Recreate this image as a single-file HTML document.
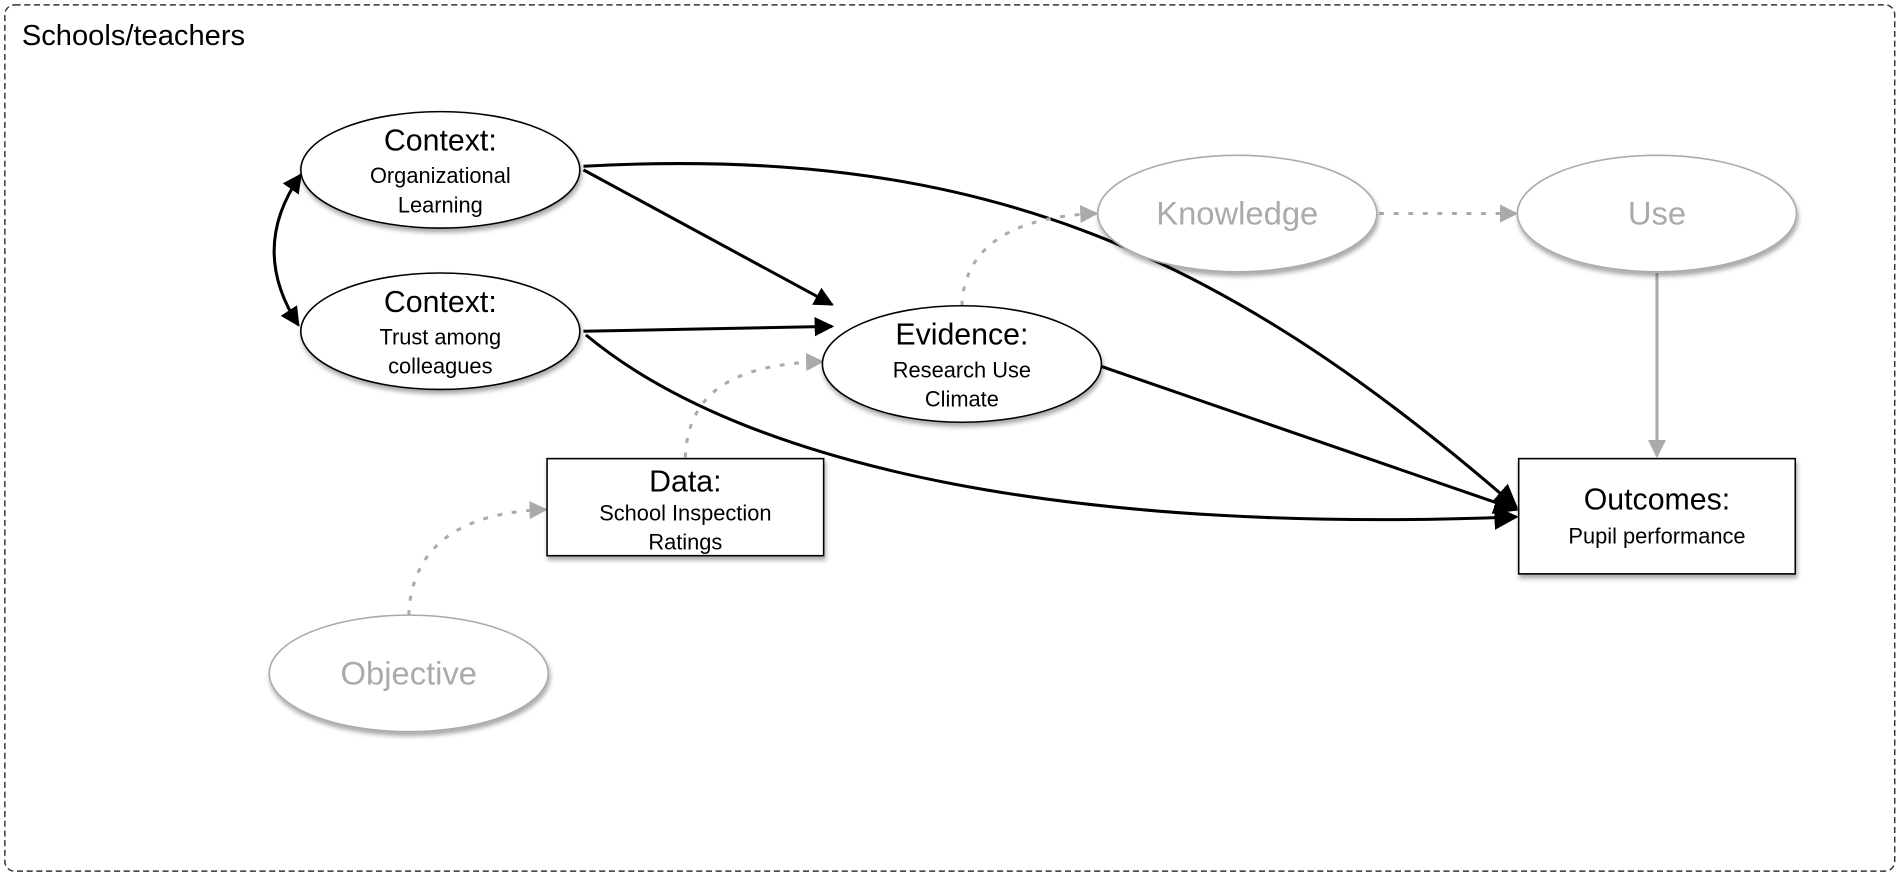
<!DOCTYPE html>
<html><head><meta charset="utf-8"><style>
html,body{margin:0;padding:0;background:#fff;}
svg{display:block;}
text{font-family:"Liberation Sans",Arial,sans-serif;}
</style></head><body>
<svg width="1902" height="876" viewBox="0 0 1568 722" preserveAspectRatio="none" xmlns="http://www.w3.org/2000/svg">
<defs>
<marker id="ab" viewBox="0 0 10 10" refX="9" refY="5" markerWidth="7" markerHeight="7" orient="auto-start-reverse" markerUnits="userSpaceOnUse"><path d="M0,0 L10,5 L0,10 z" fill="#000"/></marker>
<marker id="abig" viewBox="0 0 10 10" refX="9" refY="5" markerWidth="20" markerHeight="20" orient="auto" markerUnits="userSpaceOnUse"><path d="M0,0 L10,5 L0,10 z" fill="#000"/></marker>
<marker id="am" viewBox="0 0 10 10" refX="9" refY="5" markerWidth="16" markerHeight="16" orient="auto-start-reverse" markerUnits="userSpaceOnUse"><path d="M0,0 L10,5 L0,10 z" fill="#000"/></marker>
<marker id="ag" viewBox="0 0 10 10" refX="9" refY="5" markerWidth="15" markerHeight="15" orient="auto" markerUnits="userSpaceOnUse"><path d="M0,0 L10,5 L0,10 z" fill="#aaa"/></marker>
<filter id="sh" x="-10%" y="-10%" width="130%" height="140%"><feDropShadow dx="1" dy="3" stdDeviation="2" flood-color="#000" flood-opacity="0.35"/></filter>
</defs>
<rect x="4" y="4" width="1558" height="714" rx="8" fill="none" stroke="#333" stroke-width="1.2" stroke-dasharray="5,3"/>
<text x="18" y="37" font-size="24">Schools/teachers</text>

<!-- connectors -->
<path d="M248,144 Q205,205 246,268" fill="none" stroke="#000" stroke-width="2.5" marker-start="url(#am)" marker-end="url(#am)"/>
<path d="M481,140 L686,251" fill="none" stroke="#000" stroke-width="2.5" marker-end="url(#am)"/>
<path d="M481,273 L686,269" fill="none" stroke="#000" stroke-width="2.5" marker-end="url(#am)"/>
<path d="M481,137 C800,120 1000,200 1250,418" fill="none" stroke="#000" stroke-width="2.5" marker-end="url(#abig)"/>
<path d="M483,276 C620,390 900,440 1250,426" fill="none" stroke="#000" stroke-width="2.5" marker-end="url(#abig)"/>
<path d="M908,302 L1250,420" fill="none" stroke="#000" stroke-width="2.5" marker-end="url(#abig)"/>
<path d="M1366,225 L1366,376" fill="none" stroke="#aaa" stroke-width="2.5" marker-end="url(#ag)"/>
<path d="M1137,176 L1250,176" fill="none" stroke="#aaa" stroke-width="2.5" stroke-dasharray="4,8" marker-end="url(#ag)"/>
<path d="M793,252 C795,200 840,178 904,176" fill="none" stroke="#aaa" stroke-width="2.5" stroke-dasharray="4,8" marker-end="url(#ag)"/>
<path d="M565,377 C567,320 610,300 678,298" fill="none" stroke="#aaa" stroke-width="2.5" stroke-dasharray="4,8" marker-end="url(#ag)"/>
<path d="M337,507 C339,450 380,422 450,420" fill="none" stroke="#aaa" stroke-width="2.5" stroke-dasharray="4,8" marker-end="url(#ag)"/>

<!-- nodes -->
<g filter="url(#sh)">
<ellipse cx="363" cy="140" rx="115" ry="48" fill="#fff" stroke="#000" stroke-width="1.3"/>
<ellipse cx="363" cy="273" rx="115" ry="48" fill="#fff" stroke="#000" stroke-width="1.3"/>
<ellipse cx="793" cy="300" rx="115" ry="48" fill="#fff" stroke="#000" stroke-width="1.3"/>
<ellipse cx="1020" cy="176" rx="115" ry="48" fill="#fff" stroke="#aaa" stroke-width="1.3"/>
<ellipse cx="1366" cy="176" rx="115" ry="48" fill="#fff" stroke="#aaa" stroke-width="1.3"/>
<ellipse cx="337" cy="555" rx="115" ry="48" fill="#fff" stroke="#aaa" stroke-width="1.3"/>
<rect x="451" y="378" width="228" height="80" fill="#fff" stroke="#000" stroke-width="1.3"/>
<rect x="1252" y="378" width="228" height="95" fill="#fff" stroke="#000" stroke-width="1.3"/>
</g>

<g text-anchor="middle" fill="#000">
<text x="363" y="124" font-size="25">Context:</text>
<text x="363" y="151" font-size="18">Organizational</text>
<text x="363" y="175" font-size="18">Learning</text>
<text x="363" y="257" font-size="25">Context:</text>
<text x="363" y="284" font-size="18">Trust among</text>
<text x="363" y="308" font-size="18">colleagues</text>
<text x="793" y="284" font-size="25">Evidence:</text>
<text x="793" y="311" font-size="18">Research Use</text>
<text x="793" y="335" font-size="18">Climate</text>
<text x="565" y="405" font-size="25">Data:</text>
<text x="565" y="429" font-size="18">School Inspection</text>
<text x="565" y="453" font-size="18">Ratings</text>
<text x="1366" y="420" font-size="25">Outcomes:</text>
<text x="1366" y="448" font-size="18">Pupil performance</text>
</g>
<g text-anchor="middle" fill="#aaa" font-size="27">
<text x="1020" y="185">Knowledge</text>
<text x="1366" y="185">Use</text>
<text x="337" y="564">Objective</text>
</g>
</svg>
</body></html>
